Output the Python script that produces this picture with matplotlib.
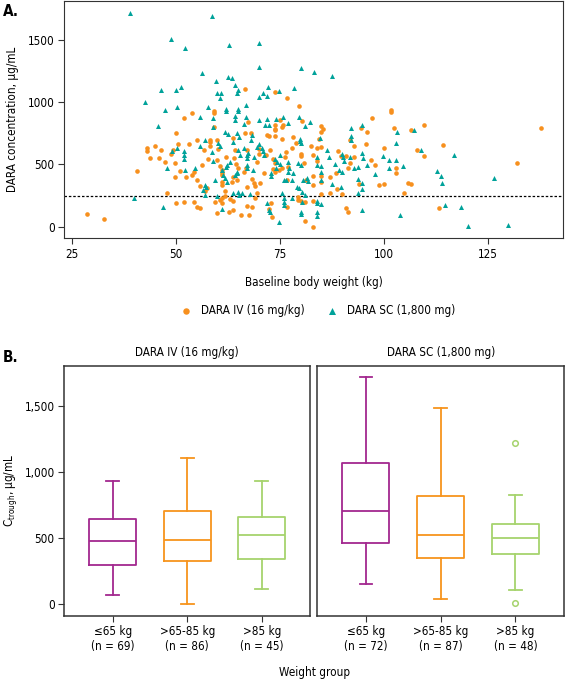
import numpy as np
import matplotlib.pyplot as plt
from matplotlib import font_manager as fm

# pick a condensed sans if one is installed, like the journal font
fonts = {(f.name, str(f.stretch)) for f in fm.fontManager.ttflist}
names = {n for n, _ in fonts}
if "Liberation Sans Narrow" in names:
    plt.rcParams['font.family'] = ['Liberation Sans Narrow', 'DejaVu Sans']
elif any(n == "DejaVu Sans" and "condensed" in s for n, s in fonts):
    plt.rcParams['font.family'] = ['DejaVu Sans']
    plt.rcParams['font.stretch'] = 'condensed'
else:
    plt.rcParams['font.family'] = ['Liberation Sans', 'DejaVu Sans']
plt.rcParams['font.size'] = 8.4

# ---- panel A: scatter (kg, ug/mL)
iv_kg = [28.6, 32.8, 40.7, 43.0, 43.0, 45.0, 46.4, 43.8, 45.9, 47.4, 47.8,
         50.0, 48.9, 49.8, 50.5, 50.9, 49.8, 52.0, 53.1, 52.5, 54.0,
         54.0, 54.3, 55.0, 55.0, 55.9, 56.4, 56.9, 57.5, 50.0, 52.0,
         54.3, 55.0, 55.8, 58.1, 58.3, 58.1, 56.8, 59.1, 59.1, 59.1,
         59.9, 60.0, 60.6, 61.1, 61.1, 61.1, 61.1, 61.1, 61.1, 61.1,
         59.9, 62.9, 63.8, 61.9, 61.9, 63.1, 62.0, 64.3, 64.1, 64.5,
         64.9, 64.8, 65.6, 49.4, 57.8, 60.1, 63.8, 63.8, 63.5, 60.6,
         59.4, 63.8,
         66.7, 66.7, 68.1, 67.3, 67.1, 66.9, 66.3, 67.2, 68.4, 68.8,
         69.0, 67.5, 67.2, 68.4, 69.1, 69.6, 70.1, 70.1, 69.5, 71.1,
         70.3, 71.6, 71.9, 72.3, 73.9, 73.9, 73.9, 73.9, 73.9, 75.1,
         75.6, 76.8, 75.6, 72.7, 73.3, 73.8, 73.3, 73.8, 74.9, 75.5,
         76.3, 76.6, 77.1, 76.8, 78.9, 78.1, 72.8, 72.3, 73.2, 76.8,
         79.5, 79.5, 79.6, 80.3, 75.7, 78.0, 80.0, 80.0, 80.8, 81.3,
         80.0, 81.1, 82.9, 81.1, 82.9, 84.0, 82.9, 83.0, 83.0, 82.5,
         83.9, 84.9, 85.5, 84.9, 84.9, 84.9, 85.0,
         87.0, 87.1, 88.5, 88.9, 89.8, 90.9, 91.9, 91.5, 88.8, 89.9,
         92.9, 92.9, 91.9, 94.5, 95.9, 95.7, 97.1, 94.0, 90.9, 91.3,
         96.9, 98.0, 98.9, 100.0, 100.0, 101.8, 101.8, 102.4, 103.0, 103.0,
         105.0, 105.9, 106.6, 106.5, 107.9, 109.7, 109.8, 113.4, 114.2, 132.0,
         137.9, 84.9, 84.5]
iv_conc = [106, 66, 449, 635, 608, 648, 616, 552, 555, 520, 273,
           754, 581, 515, 667, 444, 401, 871, 667, 401, 911,
           417, 436, 699, 374, 328, 499, 284, 308, 194, 199,
           197, 162, 149, 699, 680, 647, 613, 932, 910, 799,
           699, 534, 488, 454, 428, 414, 361, 335, 229, 189,
           109, 122, 135, 289, 247, 221, 560, 613, 555, 507,
           468, 374, 96, 619, 542, 621, 711, 401, 361, 215,
           197, 207,
           1105, 751, 749, 844, 613, 468, 441, 321, 380, 353,
           325, 96, 170, 163, 229, 273, 627, 587, 520, 428,
           348, 573, 733, 728, 1078, 786, 813, 773, 730, 860,
           799, 1030, 706, 613, 547, 510, 462, 441, 454, 468,
           560, 597, 480, 374, 675, 720, 194, 141, 82, 162,
           237, 213, 972, 852, 813, 632, 584, 566, 512, 372,
           207, 202, 207, 50, 0, 526, 576, 406, 332, 645,
           635, 640, 786, 759, 409, 356, 263,
           273, 396, 428, 608, 568, 568, 512, 472, 300, 263,
           560, 648, 693, 791, 759, 667, 874, 343, 149, 117,
           534, 494, 335, 343, 632, 940, 924, 789, 468, 428,
           273, 348, 343, 778, 619, 813, 571, 151, 659, 510,
           794, 805, 703]

sc_kg = [38.9, 46.4, 42.5, 45.6, 40.0, 46.9, 47.4,
         48.9, 52.1, 58.8, 62.9, 56.4, 59.7, 62.6, 63.5, 64.3, 64.9,
         64.7, 59.9, 60.9, 60.6, 50.0, 51.3, 50.2, 57.8, 62.0, 62.0,
         64.3, 64.9, 64.9,
         55.8, 59.0, 59.0, 64.3, 49.1, 50.3, 52.0, 52.0, 52.0, 47.8,
         52.2, 54.5, 55.8, 57.0, 60.2, 60.6, 61.9, 62.6, 63.7, 65.0,
         62.4, 62.1, 61.1, 61.4, 61.9, 62.3, 59.4, 57.0, 57.3, 56.6,
         56.9, 59.9, 63.7, 64.9, 65.2, 64.3, 64.7, 64.8, 63.1, 58.7,
         59.0, 64.7, 65.2, 65.5, 61.2,
         70.1, 69.9, 80.0, 83.2, 78.4, 72.1, 70.9, 71.9, 70.0, 74.9,
         66.9, 66.9, 71.9, 75.7, 79.7, 74.1,
         66.3, 69.9, 71.5, 72.5, 68.3, 68.0, 66.5, 67.1, 67.1, 70.7,
         70.9, 71.1, 68.6, 73.9, 74.3, 75.1, 77.1, 77.3, 78.3, 79.9,
         79.9, 81.5, 81.9, 80.7, 79.1, 79.7, 75.9, 75.9, 75.9, 75.5,
         72.3, 72.7, 74.9, 77.9, 80.3, 81.1, 80.3, 80.0, 80.1, 84.0,
         84.0, 65.9, 67.9, 76.9, 82.3, 81.0, 80.0, 79.5, 80.0, 77.0,
         78.0, 76.4, 72.9, 72.9, 74.1, 75.1, 76.1, 67.3, 67.1, 67.1,
         68.8, 69.5, 70.1, 71.9, 84.0, 83.9, 84.0, 84.0,
         87.5, 84.7, 86.3, 86.9, 88.3, 89.9, 90.1, 89.2, 89.9, 90.5,
         91.9, 92.1, 92.1, 92.1, 94.9, 92.9, 93.8, 93.8, 94.9, 94.9,
         93.9, 85.0, 85.0, 84.9, 87.5, 89.7, 94.9, 96.1, 97.9, 99.9,
         101.3, 101.2, 102.9, 102.9, 103.1, 104.7, 103.9, 107.4, 108.9, 112.9,
         113.9, 114.1, 114.7, 116.9, 118.5, 120.2, 126.5, 130.0, 94.9, 95.1,
         84.9]
sc_conc = [1715, 1099, 1004, 805, 231, 159, 936,
           1503, 1431, 1689, 1455, 1229, 1171, 1203, 1192, 1137, 1097,
           1073, 1070, 1070, 1030, 1097, 1123, 958, 964, 946, 930,
           892, 946, 930,
           879, 871, 799, 853, 605, 630, 608, 579, 547, 470,
           454, 472, 645, 693, 675, 648, 759, 746, 680, 613,
           499, 480, 454, 414, 388, 361, 374, 335, 321, 295,
           255, 245, 268, 276, 255, 414, 428, 441, 520, 600,
           528, 751, 720, 579, 146,
           1474, 1283, 1272, 1237, 1113, 1118, 1070, 1046, 1038, 1091,
           978, 879, 866, 879, 879, 862,
           826, 853, 813, 813, 733, 693, 630, 579, 552, 632,
           605, 579, 454, 547, 520, 573, 520, 468, 428, 706,
           690, 388, 366, 374, 321, 308, 229, 197, 175, 268,
           135, 117, 42, 233, 276, 255, 202, 122, 101, 210,
           189, 268, 263, 831, 839, 805, 672, 512, 494, 441,
           377, 377, 428, 406, 468, 507, 374, 592, 496, 470,
           560, 640, 661, 189, 560, 499, 122, 88,
           1211, 710, 613, 560, 502, 587, 560, 454, 441, 528,
           560, 730, 693, 789, 818, 472, 480, 382, 348, 300,
           273, 374, 436, 486, 340, 321, 135, 494, 422, 566,
           534, 475, 534, 672, 757, 486, 93, 773, 613, 449,
           406, 348, 175, 579, 159, 6, 393, 16, 590, 550,
           183]

threshold = 250

# ---- panel B: box plot summaries (ug/mL): whisker low, Q1, median, Q3, whisker high
groups = ["\u226465 kg", ">65-85 kg", ">85 kg"]
iv_n = [69, 86, 45]
sc_n = [72, 87, 48]
iv_box = [(70, 297, 481, 645, 937), (5, 330, 486, 705, 1108), (118, 345, 526, 662, 930)]
sc_box = [(151, 464, 708, 1066, 1718), (45, 352, 524, 821, 1484), (106, 380, 499, 605, 826)]
sc_fliers = [[], [], [1217, 12]]
box_colors = ["#A3288F", "#F7941D", "#A6D36D"]

orange = "#F7901E"
teal = "#00A29A"
edge = "#333333"

fig = plt.figure(figsize=(5.65, 6.79), dpi=100)

ax = fig.add_axes([0.114, 0.6495, 0.883, 0.349])
ax.scatter(iv_kg, iv_conc, s=11, marker="o", color=orange, linewidths=0,
           label="DARA IV (16 mg/kg)", zorder=3)
ax.scatter(sc_kg, sc_conc, s=13, marker="^", color=teal, linewidths=0,
           label="DARA SC (1,800 mg)", zorder=3)
ax.axhline(threshold, color="black", lw=0.9, ls=(0, (2, 1.5)), zorder=2)
ax.set_xlim(23.2, 143.2)
ax.set_ylim(-88, 1808)
ax.set_xticks([25, 50, 75, 100, 125])
ax.set_yticks([0, 500, 1000, 1500])
ax.set_xlabel("Baseline body weight (kg)", labelpad=11)
ax.set_ylabel("DARA concentration, \u00b5g/mL", labelpad=6)
for s in ax.spines.values():
    s.set_color(edge)
ax.tick_params(direction="out", length=4, color=edge, pad=3)
fig.legend(loc="center", bbox_to_anchor=(0.557, 0.542), ncol=2, frameon=False,
           handletextpad=0.3, columnspacing=1.3, markerscale=1.4)
fig.text(0.005, 0.983, "A.", fontsize=11, fontweight="bold", va="center")


def draw_boxes(a, boxes, ns, fliers, title):
    pos = [1, 2, 3]
    for p, b, f, c in zip(pos, boxes, fliers, box_colors):
        st = dict(whislo=b[0], q1=b[1], med=b[2], q3=b[3], whishi=b[4], fliers=f)
        a.bxp([st], positions=[p], widths=0.63, capwidths=0.17, showfliers=True,
              boxprops=dict(color=c, lw=1.3),
              whiskerprops=dict(color=c, lw=1.3),
              capprops=dict(color=c, lw=1.3),
              medianprops=dict(color=c, lw=1.3),
              flierprops=dict(marker="o", mfc="none", mec=c, ms=4, mew=1.1))
    a.set_xlim(0.35, 3.65)
    a.set_ylim(-85, 1805)
    a.set_xticks(pos)
    a.set_xticklabels([f"{g}\n(n = {n})" for g, n in zip(groups, ns)])
    a.set_title(title, fontsize=8.4, pad=7)
    for s in a.spines.values():
        s.set_color(edge)
        s.set_linewidth(1.1)
    a.tick_params(direction="out", length=4, color=edge, pad=3)


ax1 = fig.add_axes([0.114, 0.0932, 0.435, 0.3682])
ax2 = fig.add_axes([0.5616, 0.0932, 0.4366, 0.3682])
draw_boxes(ax1, iv_box, iv_n, [[], [], []], "DARA IV (16 mg/kg)")
draw_boxes(ax2, sc_box, sc_n, sc_fliers, "DARA SC (1,800 mg)")
ax1.set_yticks([0, 500, 1000, 1500])
ax1.set_yticklabels(["0", "500", "1,000", "1,500"])
ax1.set_ylabel("C$_{\\mathrm{trough}}$, \u00b5g/mL", labelpad=4)
ax2.set_yticks([])
fig.text(0.556, 0.0103, "Weight group", ha="center", va="center")
fig.text(0.005, 0.473, "B.", fontsize=11, fontweight="bold", va="center")

fig.savefig("out.png", dpi=100)
